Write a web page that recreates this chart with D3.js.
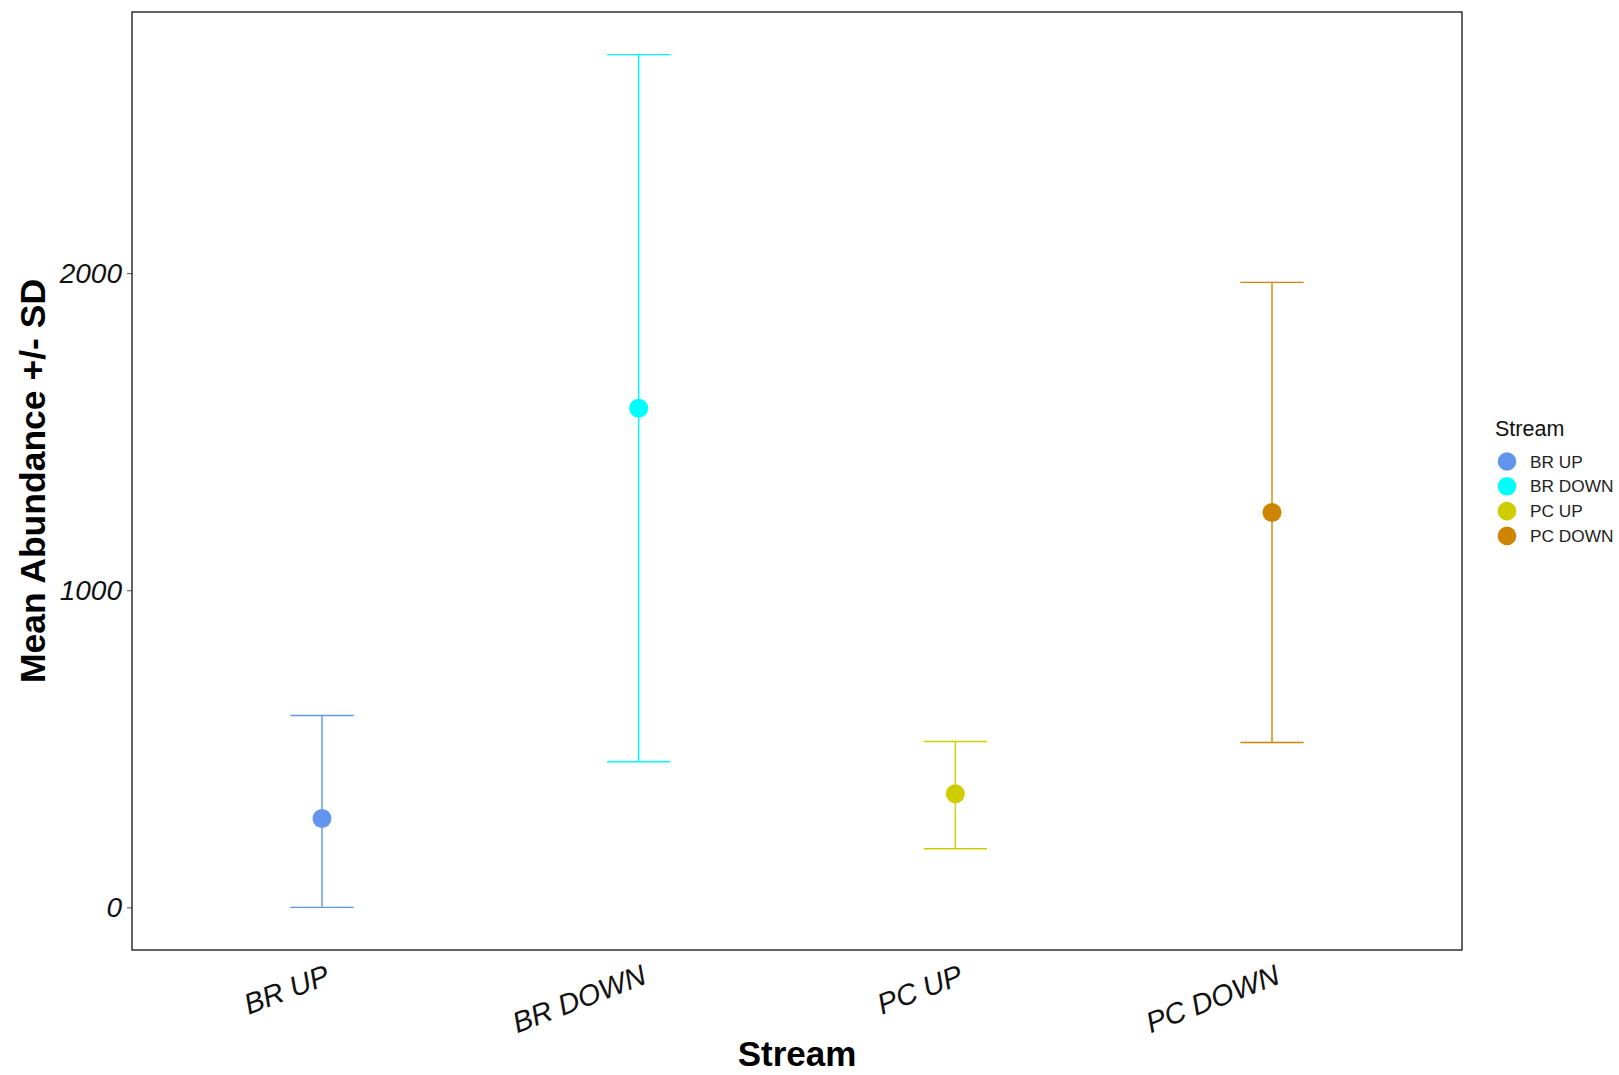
<!DOCTYPE html>
<html>
<head>
<meta charset="utf-8">
<script src="https://cdn.jsdelivr.net/npm/d3@7"></script>
<style>
  html, body { margin: 0; padding: 0; background: #ffffff; }
  svg { display: block; font-family: "Liberation Sans", Arial, sans-serif; }
</style>
</head>
<body>
<svg id="chart" width="1619" height="1075"></svg>
<script>
// Stream sites and their mean abundance with the +/- SD interval
const streams = ["BR UP", "BR DOWN", "PC UP", "PC DOWN"];
const meanAbundance = [280, 1574, 358, 1245];
const lowerSD = [0, 459, 185, 520];
const upperSD = [605, 2689, 523, 1971];
const streamColors = ["#6495ED", "#00FFFF", "#CDCD00", "#CD8500"];
const yTicks = [0, 1000, 2000];

const svg = d3.select("#chart");
const panel = { left: 132, top: 12, right: 1462, bottom: 950 };

// Discrete x with ggplot-like 0.6 unit padding on both sides
const x = d3.scalePoint()
  .domain(streams)
  .range([panel.left, panel.right])
  .padding(0.6);
const step = x.step();

// Continuous y with 5% expansion of the data range
const yMin = d3.min(lowerSD), yMax = d3.max(upperSD);
const pad = (yMax - yMin) * 0.05;
const y = d3.scaleLinear()
  .domain([yMin - pad, yMax + pad])
  .range([panel.bottom, panel.top]);

const color = d3.scaleOrdinal().domain(streams).range(streamColors);

const rows = streams.map((s, i) => ({
  stream: s, mean: meanAbundance[i], lo: lowerSD[i], hi: upperSD[i]
}));

// Y axis ticks and labels
const yAxis = d3.axisLeft(y).tickValues(yTicks).tickSize(5).tickPadding(5).tickFormat(d3.format("d"));
const gy = svg.append("g").attr("transform", `translate(${panel.left},0)`).call(yAxis);
gy.select(".domain").remove();
gy.selectAll(".tick line").attr("stroke", "#555").attr("stroke-width", 1);
gy.selectAll(".tick text")
  .attr("fill", "#111")
  .style("font-size", "28px")
  .style("font-style", "italic");

// X axis labels, slanted
const xAxis = d3.axisBottom(x).tickSize(0).tickPadding(0);
const gx = svg.append("g").attr("transform", `translate(0,${panel.bottom})`).call(xAxis);
gx.select(".domain").remove();
gx.selectAll(".tick line").remove();
gx.selectAll(".tick text")
  .attr("fill", "#111")
  .style("font-size", "29px")
  .style("font-style", "italic")
  .attr("text-anchor", "end")
  .attr("dy", null)
  .attr("y", null)
  .attr("transform", "translate(9,33) rotate(-21)");

// Error bars
const capHalf = step * 0.1;
const bars = svg.append("g").selectAll("g").data(rows).join("g")
  .attr("stroke", d => color(d.stream))
  .attr("stroke-width", 1.4)
  .attr("fill", "none");
bars.append("line")
  .attr("x1", d => x(d.stream)).attr("x2", d => x(d.stream))
  .attr("y1", d => y(d.lo)).attr("y2", d => y(d.hi));
bars.append("line")
  .attr("x1", d => x(d.stream) - capHalf).attr("x2", d => x(d.stream) + capHalf)
  .attr("y1", d => y(d.hi)).attr("y2", d => y(d.hi));
bars.append("line")
  .attr("x1", d => x(d.stream) - capHalf).attr("x2", d => x(d.stream) + capHalf)
  .attr("y1", d => y(d.lo)).attr("y2", d => y(d.lo));

// Mean points
svg.append("g").selectAll("circle").data(rows).join("circle")
  .attr("cx", d => x(d.stream))
  .attr("cy", d => y(d.mean))
  .attr("r", 9.5)
  .attr("fill", d => color(d.stream));

// Panel border
svg.append("rect")
  .attr("x", panel.left).attr("y", panel.top)
  .attr("width", panel.right - panel.left)
  .attr("height", panel.bottom - panel.top)
  .attr("fill", "none")
  .attr("stroke", "#111")
  .attr("stroke-width", 1.3);

// Axis titles
svg.append("text")
  .attr("x", (panel.left + panel.right) / 2)
  .attr("y", 1066)
  .attr("text-anchor", "middle")
  .style("font-size", "35px")
  .style("font-weight", "bold")
  .attr("fill", "#000")
  .text("Stream");

svg.append("text")
  .attr("transform", `translate(45,${(panel.top + panel.bottom) / 2}) rotate(-90)`)
  .attr("text-anchor", "middle")
  .style("font-size", "35.5px")
  .style("font-weight", "bold")
  .attr("fill", "#000")
  .text("Mean Abundance +/- SD");

// Legend
const legend = svg.append("g").attr("transform", "translate(1495,0)");
legend.append("text")
  .attr("x", 0).attr("y", 436)
  .style("font-size", "21.5px")
  .attr("fill", "#111")
  .text("Stream");
const items = legend.selectAll("g.item").data(streams).join("g")
  .attr("class", "item")
  .attr("transform", (d, i) => `translate(0,${461.5 + i * 24.8})`);
items.append("circle")
  .attr("cx", 12).attr("cy", 0).attr("r", 9.3)
  .attr("fill", d => color(d));
items.append("text")
  .attr("x", 35).attr("y", 6)
  .style("font-size", "17.3px")
  .attr("fill", "#222")
  .text(d => d);
</script>
</body>
</html>
